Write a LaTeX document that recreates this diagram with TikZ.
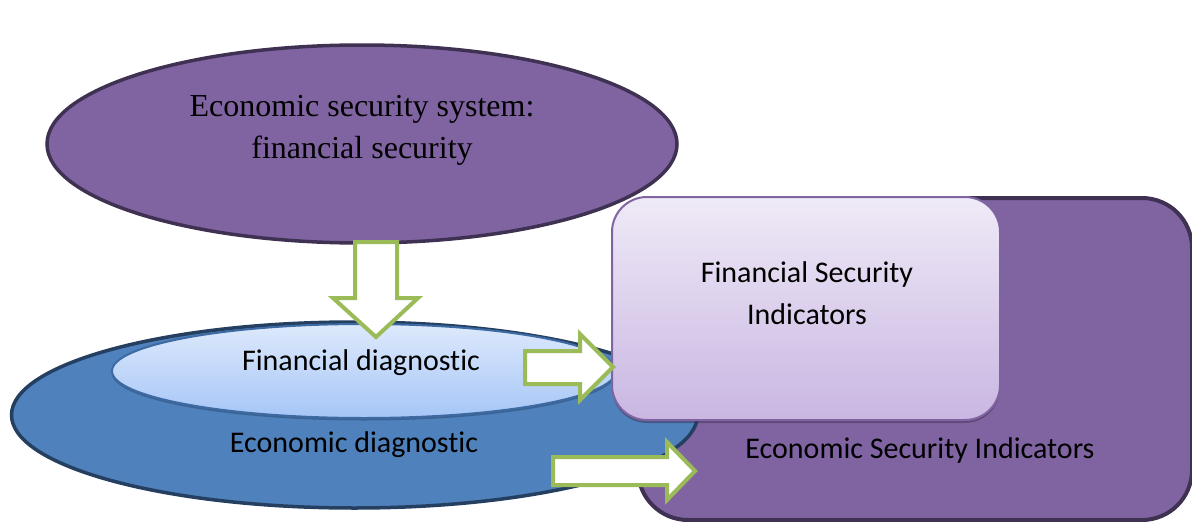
\documentclass[tikz,border=0pt]{standalone}
\usepackage{fontspec}
\setmainfont{Liberation Serif}
\newfontfamily\calib[Ligatures=NoCommon]{Carlito}
\usetikzlibrary{shapes.geometric,shadows}
\definecolor{purp}{HTML}{8064A2}
\definecolor{purpdark}{HTML}{3F3151}
\definecolor{bluefill}{HTML}{4F81BD}
\definecolor{bluedark}{HTML}{243F60}
\definecolor{lighttop}{HTML}{DDE9FC}
\definecolor{lightbot}{HTML}{A6C6F7}
\definecolor{lightedge}{HTML}{3D6AA3}
\definecolor{lavtop}{HTML}{EFEAF7}
\definecolor{lavbot}{HTML}{C9B6E2}
\definecolor{grn}{HTML}{9BBB59}
\tikzset{
  ovalshape/.style={ellipse, inner sep=0pt},
  blockarrow/.style={draw=grn, fill=white, line width=4pt, line join=miter},
  sanslabel/.style={font=\calib\fontsize{30}{42}\selectfont, text=black, align=center, inner sep=0pt},
  seriflabel/.style={font=\fontsize{32}{42}\selectfont, text=black, align=center, inner sep=0pt},
}
\begin{document}
\begin{tikzpicture}[x=1pt,y=-1pt]
\useasboundingbox (0,0) rectangle (1192,522);
\clip (0,0) rectangle (1192,522);
% top ellipse
\node[ovalshape, fill=purp, draw=purpdark, line width=3.5pt, minimum width=630pt, minimum height=198pt] (sys) at (362,144) {};
% big rounded rectangle
\node[rectangle, rounded corners=50pt, fill=purp, draw=purpdark, line width=4pt, minimum width=554pt, minimum height=322pt, inner sep=0pt] (esi) at (915,359) {};
% blue ellipse
\node[ovalshape, fill=bluefill, draw=bluedark, line width=3.5pt, minimum width=686pt, minimum height=186pt] (ed) at (354.5,415) {};
% light ellipse
\node[ovalshape, top color=lighttop, bottom color=lightbot, draw=lightedge, line width=2pt, minimum width=504pt, minimum height=94pt,
  drop shadow={shadow xshift=0pt, shadow yshift=-2.5pt, opacity=0.45, fill=bluedark}] (fd) at (364,371) {};
% small rounded rectangle
\node[rectangle, rounded corners=35pt, top color=lavtop, bottom color=lavbot, draw=purp, line width=2pt, minimum width=388pt, minimum height=223pt, inner sep=0pt,
  drop shadow={shadow xshift=0pt, shadow yshift=-3pt, opacity=0.5, fill=purpdark}] (fsi) at (806,308.5) {};
% block arrows
\draw[blockarrow] (355,242) -- (397,242) -- (397,298) -- (418,298) -- (376,337) -- (333,298) -- (355,298) -- cycle;
\draw[blockarrow] (525,351) -- (580,351) -- (580,334) -- (613,367) -- (580,400) -- (580,384) -- (525,384) -- cycle;
\draw[blockarrow] (553,457) -- (667,457) -- (667,442) -- (695,471) -- (667,500) -- (667,485) -- (553,485) -- cycle;
% labels
\node[seriflabel] (tsys) at (362,130) {Economic security system:\\financial security};
\node[sanslabel] (tfd) at (361,363) {Financial diagnostic};
\node[sanslabel] (ted) at (354,445) {Economic diagnostic};
\node[sanslabel] (tfsi) at (807,293) {Financial Security\\Indicators};
\node[sanslabel] (tesi) at (920,450) {Economic Security Indicators};
\end{tikzpicture}
\end{document}
